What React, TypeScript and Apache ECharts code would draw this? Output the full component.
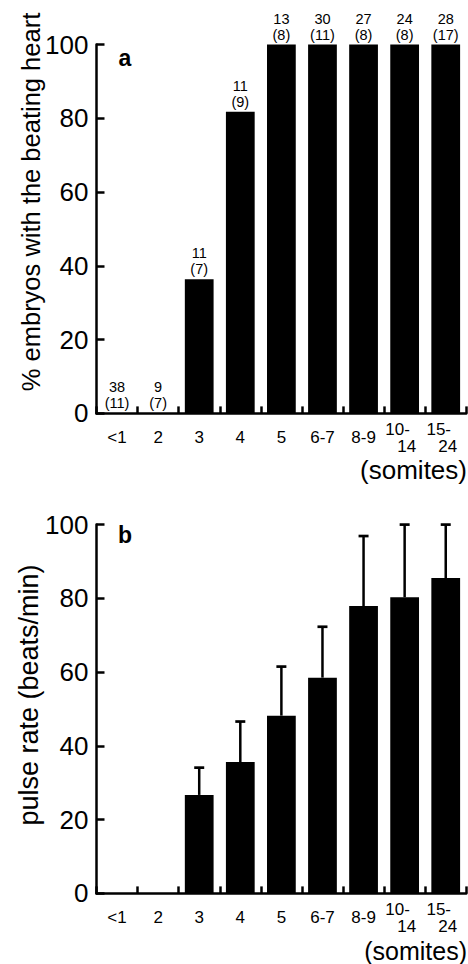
import React, { useEffect, useRef } from "react";
import * as echarts from "echarts";

const categories = ["<1", "2", "3", "4", "5", "6-7", "8-9", "10-14", "15-24"];
const percentBeating = [0, 0, 36.4, 81.8, 100, 100, 100, 100, 100];
const totalEmbryos = [38, 9, 11, 11, 13, 30, 27, 24, 28];
const countInParens = [11, 7, 7, 9, 8, 11, 8, 8, 17];
const pulseMean = [null, null, 26.7, 35.6, 48.2, 58.5, 77.9, 80.3, 85.5];
const pulseUpper = [null, null, 34.1, 46.6, 61.5, 72.3, 96.9, 100, 100];
const yTicks = [0, 20, 40, 60, 80, 100];

const FONT = "'Liberation Sans', Arial, Helvetica, sans-serif";

export default function App() {
  const ref = useRef<HTMLDivElement>(null);
  useEffect(() => {
    if (!ref.current) return;
    const chart = echarts.init(ref.current, null, { renderer: "svg" });

    const xLabelFormatter = (v: string) => {
      const m = v.match(/^(\d+)-(\d+)$/);
      if (m && m[1].length === 2) return `{a|${m[1]}-}\n{b|${m[2]}}`;
      return `{c|${v}}`;
    };
    const richX = {
      a: { fontSize: 17, fontFamily: FONT, color: "#000", lineHeight: 16.5, padding: [0, 14, 0, 0] },
      b: { fontSize: 17, fontFamily: FONT, color: "#000", lineHeight: 16.5, padding: [0, 0, 0, 4] },
      c: { fontSize: 17, fontFamily: FONT, color: "#000", lineHeight: 17 },
    };

    const makeX = (gridIndex: number) => ({
      type: "category",
      gridIndex,
      data: categories,
      boundaryGap: true,
      axisLine: { show: true, lineStyle: { color: "#000", width: 2.5 } },
      axisTick: { show: true, inside: true, length: 7, alignWithLabel: false, interval: 0, lineStyle: { color: "#000", width: 2.5 } },
      axisLabel: {
        interval: 0,
        margin: 24.5,
        verticalAlign: "middle",
        color: "#000",
        fontSize: 17,
        fontFamily: FONT,
        formatter: xLabelFormatter,
        rich: richX,
      },
      splitLine: { show: false },
    });
    const makeY = (gridIndex: number) => ({
      type: "value",
      gridIndex,
      min: yTicks[0],
      max: yTicks[yTicks.length - 1],
      interval: yTicks[1] - yTicks[0],
      axisLine: { show: true, lineStyle: { color: "#000", width: 2.5 } },
      axisTick: { show: true, inside: true, length: 8, lineStyle: { color: "#000", width: 2.5 } },
      axisLabel: { margin: 8, color: "#000", fontSize: 26, fontFamily: FONT },
      splitLine: { show: false },
    });

    const errData = pulseMean
      .map((m, i) => (m == null || pulseUpper[i] == null ? null : [i, m, pulseUpper[i]]))
      .filter((d) => d !== null);

    chart.setOption({
      animation: false,
      backgroundColor: "#fff",
      grid: [
        { left: 96.5, width: 370, top: 44.6, height: 368.8 },
        { left: 96.5, width: 370, top: 524.6, height: 368.8 },
      ],
      xAxis: [makeX(0), makeX(1)],
      yAxis: [makeY(0), makeY(1)],
      series: [
        {
          type: "bar",
          xAxisIndex: 0,
          yAxisIndex: 0,
          data: percentBeating,
          barCategoryGap: "30%",
          itemStyle: { color: "#000" },
          label: {
            show: true,
            position: "top",
            distance: 2,
            color: "#000",
            fontSize: 14.5,
            lineHeight: 16,
            fontFamily: FONT,
            formatter: (p: any) => `${totalEmbryos[p.dataIndex]}\n(${countInParens[p.dataIndex]})`,
          },
        },
        {
          type: "bar",
          xAxisIndex: 1,
          yAxisIndex: 1,
          data: pulseMean.map((v) => (v == null ? 0 : v)),
          barCategoryGap: "30%",
          itemStyle: { color: "#000" },
          z: 2,
        },
        {
          type: "custom",
          xAxisIndex: 1,
          yAxisIndex: 1,
          data: errData,
          z: 3,
          renderItem: (params: any, api: any) => {
            const x = api.value(0);
            const base = api.coord([x, api.value(1)]);
            const top = api.coord([x, api.value(2)]);
            const half = 5;
            return {
              type: "group",
              children: [
                {
                  type: "line",
                  shape: { x1: base[0], y1: base[1], x2: top[0], y2: top[1] },
                  style: { stroke: "#000", lineWidth: 2.5 },
                },
                {
                  type: "line",
                  shape: { x1: top[0] - half, y1: top[1], x2: top[0] + half, y2: top[1] },
                  style: { stroke: "#000", lineWidth: 2.7 },
                },
              ],
            };
          },
        },
      ],
      graphic: [
        {
          type: "text",
          x: 31,
          y: 202,
          rotation: Math.PI / 2,
          style: { text: "% embryos with the beating heart", font: `25.5px ${FONT}`, fill: "#000", align: "center", verticalAlign: "middle" },
        },
        {
          type: "text",
          x: 29,
          y: 695,
          rotation: Math.PI / 2,
          style: { text: "pulse rate (beats/min)", font: `27px ${FONT}`, fill: "#000", align: "center", verticalAlign: "middle" },
        },
        {
          type: "text",
          x: 125,
          y: 58,
          style: { text: "a", font: `bold 23px ${FONT}`, fill: "#000", align: "center", verticalAlign: "middle" },
        },
        {
          type: "text",
          x: 125,
          y: 535,
          style: { text: "b", font: `bold 23px ${FONT}`, fill: "#000", align: "center", verticalAlign: "middle" },
        },
        {
          type: "text",
          x: 467,
          y: 470,
          style: { text: "(somites)", font: `26px ${FONT}`, fill: "#000", align: "right", verticalAlign: "middle" },
        },
        {
          type: "text",
          x: 467,
          y: 951,
          style: { text: "(somites)", font: `25px ${FONT}`, fill: "#000", align: "right", verticalAlign: "middle" },
        },
      ],
    });
    return () => chart.dispose();
  }, []);
  return (
    <div
      ref={ref}
      style={{ position: "fixed", left: 0, top: 0, width: 468, height: 964, background: "#fff" }}
    />
  );
}
